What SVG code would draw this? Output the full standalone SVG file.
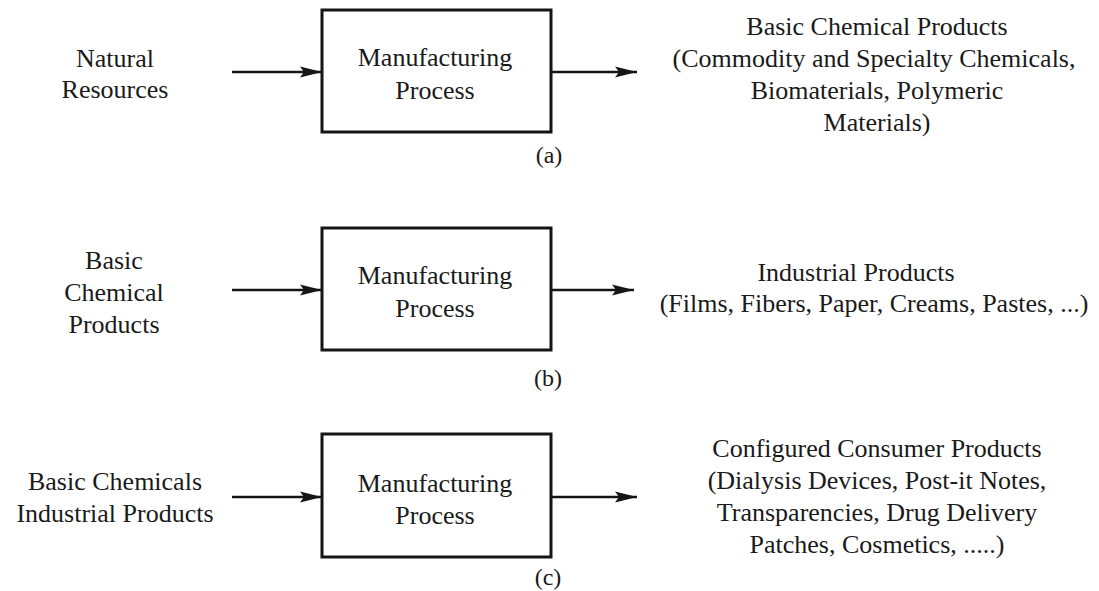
<svg xmlns="http://www.w3.org/2000/svg" width="1099" height="591" viewBox="0 0 1099 591">
<style>
text{font-family:"Liberation Serif","Times New Roman",serif;font-size:26px;fill:#1a1a1a;text-anchor:middle}
.lbl{font-size:24px}
.box{fill:#fff;stroke:#151515;stroke-width:3}
.conn{stroke:#151515;stroke-width:2.5;fill:none;marker-end:url(#ah)}
</style>
<defs>
<marker id="ah" markerUnits="userSpaceOnUse" viewBox="0 0 22 12" refX="22" refY="6" markerWidth="22" markerHeight="12" orient="auto">
<path d="M0,0.5 L22,6 L0,11.5 L4,6 z" fill="#151515"/>
</marker>
</defs>
<rect width="1099" height="591" fill="#fff"/>
<g id="connectors">
<line class="conn" x1="232" y1="72" x2="322" y2="72"/>
<line class="conn" x1="551" y1="72" x2="637" y2="72"/>
<line class="conn" x1="232" y1="290" x2="322" y2="290"/>
<line class="conn" x1="551" y1="290" x2="634" y2="290"/>
<line class="conn" x1="232" y1="497" x2="322" y2="497"/>
<line class="conn" x1="551" y1="497" x2="637" y2="497"/>
</g>
<g id="input-a"><text x="115" y="67">Natural</text><text x="115" y="98">Resources</text></g>
<g id="process-a">
<rect class="box" x="322" y="10" width="229" height="122"/>
<text x="435" y="66">Manufacturing</text><text x="435" y="99">Process</text>
</g>
<g id="output-a">
<text x="877" y="35">Basic Chemical Products</text>
<text x="874" y="67">(Commodity and Specialty Chemicals,</text>
<text x="877" y="99">Biomaterials, Polymeric</text>
<text x="877" y="131">Materials)</text>
</g>
<text class="lbl" x="549" y="163">(a)</text>
<g id="input-b"><text x="114" y="269">Basic</text><text x="114" y="301">Chemical</text><text x="114" y="333">Products</text></g>
<g id="process-b">
<rect class="box" x="322" y="228" width="229" height="122"/>
<text x="435" y="284">Manufacturing</text><text x="435" y="317">Process</text>
</g>
<g id="output-b">
<text x="856" y="281">Industrial Products</text>
<text x="874" y="312">(Films, Fibers, Paper, Creams, Pastes, ...)</text>
</g>
<text class="lbl" x="548" y="386">(b)</text>
<g id="input-c"><text x="115" y="490">Basic Chemicals</text><text x="115" y="522">Industrial Products</text></g>
<g id="process-c">
<rect class="box" x="322" y="434" width="229" height="123"/>
<text x="435" y="492">Manufacturing</text><text x="435" y="524">Process</text>
</g>
<g id="output-c">
<text x="877" y="457">Configured Consumer Products</text>
<text x="877" y="489">(Dialysis Devices, Post-it Notes,</text>
<text x="877" y="521">Transparencies, Drug Delivery</text>
<text x="877" y="553">Patches, Cosmetics, .....)</text>
</g>
<text class="lbl" x="548" y="585">(c)</text>
</svg>
